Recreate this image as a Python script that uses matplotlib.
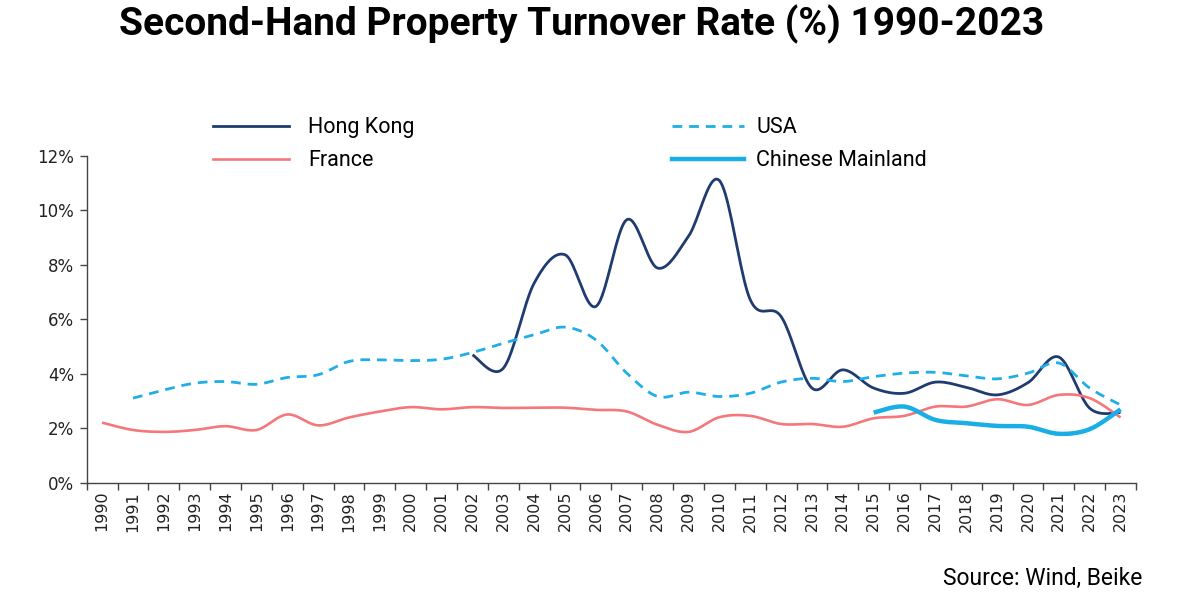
import numpy as np
import matplotlib
matplotlib.use("Agg")
import matplotlib.pyplot as plt
from matplotlib.lines import Line2D

years = list(range(1990, 2024))
year_labels = [str(y) for y in years]

# values in %, None = no data
hong_kong = [None] * 12 + [4.69, 4.20, 7.33, 8.37, 6.47, 9.66, 7.88, 9.05, 11.1, 6.72,
                           6.10, 3.47, 4.14, 3.47, 3.28, 3.69, 3.50, 3.22, 3.67, 4.61, 2.73, 2.57]
france = [2.20, 1.93, 1.86, 1.93, 2.07, 1.93, 2.50, 2.10, 2.39, 2.61, 2.77, 2.69, 2.77,
          2.74, 2.75, 2.75, 2.67, 2.61, 2.12, 1.86, 2.40, 2.45, 2.15, 2.15, 2.05, 2.36,
          2.45, 2.79, 2.79, 3.06, 2.85, 3.22, 3.10, 2.39]
usa = [None, 3.10, 3.40, 3.65, 3.71, 3.61, 3.86, 3.96, 4.45, 4.51, 4.48, 4.53, 4.78,
       5.12, 5.43, 5.71, 5.24, 4.02, 3.16, 3.32, 3.16, 3.28, 3.69, 3.83, 3.71, 3.89,
       4.02, 4.05, 3.92, 3.81, 4.02, 4.39, 3.47, 2.85]
mainland = [None] * 25 + [2.57, 2.79, 2.30, 2.18, 2.08, 2.05, 1.79, 1.96, 2.69]

series = [
    ("Hong Kong", hong_kong, dict(color="#1F3B70", lw=2.0, ls="-")),
    ("France", france, dict(color="#F4777B", lw=1.9, ls="-")),
    ("USA", usa, dict(color="#1FAEE6", lw=2.0, ls=(0, (3.5, 2.5)))),
    ("Chinese Mainland", mainland, dict(color="#1AAEE6", lw=3.2, ls="-")),
]

W, H = 1186, 614
fig = plt.figure(figsize=(W / 100, H / 100), dpi=100)
ax = fig.add_axes([86.7 / W, 1 - 482.5 / H, (1136 - 86.7) / W, (482.5 - 156) / H])


def smooth_xy(xs, ys, n=20):
    # Excel-like smoothed line: cubic Bezier through the points (Catmull-Rom)
    xs = np.asarray(xs, float)
    ys = np.asarray(ys, float)
    outx, outy = [xs[0]], [ys[0]]
    m = len(xs)
    for i in range(m - 1):
        p0 = np.array([xs[max(i - 1, 0)], ys[max(i - 1, 0)]])
        p1 = np.array([xs[i], ys[i]])
        p2 = np.array([xs[i + 1], ys[i + 1]])
        p3 = np.array([xs[min(i + 2, m - 1)], ys[min(i + 2, m - 1)]])
        c1 = p1 + (p2 - p0) / 6.0
        c2 = p2 - (p3 - p1) / 6.0
        t = np.linspace(0, 1, n + 1)[1:]
        b = ((1 - t) ** 3)[:, None] * p1 + (3 * (1 - t) ** 2 * t)[:, None] * c1 \
            + (3 * (1 - t) * t ** 2)[:, None] * c2 + (t ** 3)[:, None] * p2
        outx.extend(b[:, 0])
        outy.extend(b[:, 1])
    return np.array(outx), np.array(outy)


handles = []
labels = []
for name, vals, st in series:
    idx = [i for i, v in enumerate(vals) if v is not None]
    yv = [vals[i] for i in idx]
    sx, sy = smooth_xy(idx, yv)
    ax.plot(sx, sy, color=st["color"], lw=st["lw"], ls=st["ls"],
            solid_capstyle="butt", dash_capstyle="butt", zorder=3)
    handles.append(Line2D([], [], color=st["color"], lw=st["lw"], ls=st["ls"]))
    labels.append(name)

ax.set_xlim(-0.5, len(years) - 0.5)
ax.set_ylim(0, 12)
ax.set_yticks(np.arange(0, 13, 2))
ax.set_yticklabels([f"{v}%" for v in range(0, 13, 2)], fontsize=12, color="#222222")

ax.set_xticks(np.arange(len(years)))
ax.set_xticklabels(year_labels, rotation=90, fontsize=11.5, color="#222222")
ax.set_xticks(np.arange(len(years) + 1) - 0.5, minor=True)
ax.tick_params(axis="x", which="major", length=0, pad=6)
ax.tick_params(axis="x", which="minor", length=5, width=1.0, color="#444444", direction="out")
ax.tick_params(axis="y", length=5, width=1.0, color="#444444", direction="out", pad=4)

for s in ["top", "right"]:
    ax.spines[s].set_visible(False)
for s in ["left", "bottom"]:
    ax.spines[s].set_color("#444444")
    ax.spines[s].set_linewidth(1.0)

fig.text(582 / W, 1 - 24 / H, "Second-Hand Property Turnover Rate (%) 1990-2023",
         ha="center", va="center", fontsize=28, fontweight="bold", family="Roboto")

leg1 = fig.legend(handles[:2], labels[:2], frameon=False, loc="upper left",
                  bbox_to_anchor=(194 / W, 1 - 98 / H),
                  handlelength=3.5, handletextpad=0.9, labelspacing=0.55,
                  prop={"family": "Roboto", "size": 15.5})
leg2 = fig.legend(handles[2:], labels[2:], frameon=False, loc="upper left",
                  bbox_to_anchor=(653 / W, 1 - 98 / H),
                  handlelength=3.35, handletextpad=0.55, labelspacing=0.55,
                  prop={"family": "Roboto", "size": 15.5})

fig.text(1142 / W, 1 - 578 / H, "Source: Wind, Beike", ha="right", va="center",
         fontsize=16.5, family="Roboto")

fig.savefig("out.png", dpi=100, facecolor="white")
